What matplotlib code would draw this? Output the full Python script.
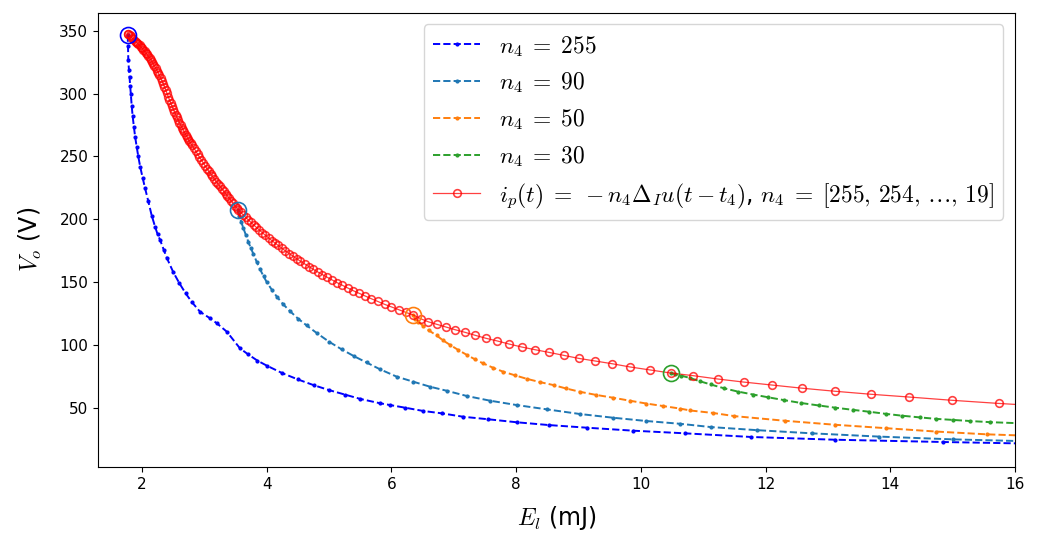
import matplotlib
matplotlib.use("Agg")
import matplotlib.pyplot as plt

plt.rcParams["mathtext.fontset"] = "cm"

# n4 = 255 (blue)
E_255 = [1.77, 1.775, 1.78, 1.79, 1.80, 1.81, 1.82, 1.835, 1.85, 1.87, 1.89,
         1.915, 1.94, 1.97, 2.01, 2.05, 2.10, 2.155, 2.21, 2.25, 2.29, 2.35,
         2.40, 2.50, 2.60, 2.70, 2.80, 2.93, 3.09, 3.20, 3.36, 3.57, 3.70,
         3.85, 4.00, 4.25, 4.50, 4.75, 5.00, 5.25, 5.50, 5.82, 5.98, 6.22,
         6.51, 6.81, 7.15, 7.55, 8.01, 8.52, 9.13, 9.88, 10.71, 11.77, 13.12,
         14.85, 16.03, 17.3]
V_255 = [347.0, 338.0, 327.0, 319.0, 313.0, 306.0, 300.0, 290.0, 282.0, 273.5,
         265.5, 257.5, 250.0, 242.0, 233.0, 224.5, 214.5, 203.0, 194.0, 188.0,
         183.5, 175.5, 169.0, 158.0, 149.0, 141.0, 134.0, 126.4, 121.2, 117.2,
         110.5, 97.3, 92.5, 87.5, 83.5, 77.5, 72.5, 68.0, 64.0, 60.5, 57.0,
         53.5, 52.1, 50.0, 47.4, 45.5, 42.8, 40.8, 38.4, 36.2, 34.1, 31.7,
         29.6, 26.7, 24.5, 22.7, 21.6, 20.9]

# n4 = 90 (steel blue)
E_90 = [3.545, 3.56, 3.59, 3.625, 3.665, 3.705, 3.745, 3.785, 3.84, 3.89,
        3.95, 4.00, 4.08, 4.16, 4.26, 4.37, 4.50, 4.64, 4.80, 5.00, 5.20,
        5.40, 5.60, 5.82, 6.085, 6.35, 6.62, 6.885, 7.21, 7.58, 8.01, 8.49,
        9.02, 9.56, 10.09, 10.63, 11.12, 11.87, 12.74, 13.82, 15.00, 16.03,
        17.2]
V_90 = [207.4, 203.0, 198.0, 193.0, 187.5, 182.0, 177.0, 172.5, 166.0, 160.5,
        154.5, 150.0, 144.0, 138.5, 132.5, 127.0, 121.0, 115.5, 109.5, 102.5,
        96.5, 91.0, 86.0, 80.5, 74.7, 70.7, 66.7, 63.5, 59.3, 55.6, 52.1,
        48.7, 45.0, 42.0, 39.4, 37.2, 34.6, 32.1, 29.6, 27.0, 24.8, 23.5,
        22.3]

# n4 = 50 (orange)
E_50 = [6.35, 6.38, 6.43, 6.51, 6.60, 6.725, 6.83, 6.94, 7.07, 7.21, 7.34,
        7.47, 7.63, 7.795, 7.98, 8.17, 8.38, 8.60, 8.80, 9.02, 9.28, 9.56,
        9.82, 10.09, 10.36, 10.63, 10.79, 11.16, 11.50, 12.31, 13.12, 13.93,
        14.74, 15.55, 16.03, 17.0]
V_50 = [123.8, 121.0, 118.5, 115.0, 111.5, 107.5, 103.5, 100.0, 96.0, 92.0,
        88.5, 85.3, 81.8, 78.6, 75.8, 73.0, 70.4, 68.0, 65.3, 62.7, 60.2,
        57.9, 55.6, 53.3, 51.3, 49.3, 47.8, 45.8, 43.3, 39.6, 36.4, 33.7,
        31.0, 28.8, 28.0, 26.5]

# n4 = 30 (green)
E_30 = [10.48, 10.55, 10.65, 10.79, 10.95, 11.12, 11.33, 11.55, 11.80, 12.04,
        12.30, 12.575, 12.85, 13.12, 13.40, 13.66, 13.93, 14.195, 14.47,
        14.74, 15.00, 15.28, 15.60, 16.03, 16.8]
V_30 = [77.6, 76.8, 75.5, 73.6, 71.0, 68.5, 65.5, 62.9, 60.5, 58.3, 56.0,
        53.7, 51.8, 50.0, 48.3, 46.8, 45.1, 43.6, 42.3, 41.1, 40.3, 39.4,
        38.5, 37.7, 36.0]

# i_p(t) step, n4 = 255 ... 19 (red)
E_step = [1.77, 1.78, 1.80, 1.82, 1.84, 1.86, 1.88, 1.90, 1.92, 1.94, 1.96,
          1.98, 2.00, 2.02, 2.04, 2.06, 2.08, 2.10, 2.12, 2.14, 2.16, 2.18,
          2.20, 2.22, 2.24, 2.26, 2.28, 2.30, 2.32, 2.34, 2.36, 2.38, 2.40,
          2.42, 2.44, 2.46, 2.48, 2.50, 2.52, 2.54, 2.56, 2.58, 2.60, 2.62,
          2.64, 2.66, 2.68, 2.70, 2.72, 2.74, 2.76, 2.78, 2.80, 2.83, 2.86,
          2.89, 2.92, 2.95, 2.98, 3.01, 3.04, 3.07, 3.10, 3.13, 3.16, 3.19,
          3.22, 3.25, 3.28, 3.31, 3.34, 3.37, 3.40, 3.43, 3.46, 3.49, 3.52,
          3.545, 3.58, 3.62, 3.66, 3.70, 3.745, 3.79, 3.83, 3.88, 3.93, 3.98,
          4.03, 4.08, 4.13, 4.18, 4.24, 4.30, 4.36, 4.42, 4.48, 4.54, 4.61,
          4.68, 4.745, 4.82, 4.89, 4.97, 5.05, 5.13, 5.21, 5.30, 5.39, 5.48,
          5.58, 5.68, 5.78, 5.89, 6.00, 6.115, 6.235, 6.35, 6.47, 6.59, 6.726,
          6.87, 7.02, 7.18, 7.345, 7.52, 7.70, 7.885, 8.09, 8.30, 8.52, 8.76,
          9.00, 9.26, 9.54, 9.83, 10.15, 10.48, 10.84, 11.24, 11.65, 12.11,
          12.59, 13.11, 13.69, 14.30, 14.99, 15.74, 16.55]
V_step = [347.5, 347.3, 346.5, 345.5, 344.4, 343.2, 342.3, 341.4, 340.5,
          339.5, 338.4, 337.3, 336.2, 335.0, 333.8, 332.6, 331.3, 330.0,
          328.6, 327.1, 325.5, 323.8, 322.1, 320.3, 318.4, 316.5, 314.5,
          312.4, 310.2, 308.0, 305.5, 302.9, 300.2, 297.5, 295.0, 292.5,
          290.1, 287.8, 285.5, 283.3, 281.1, 279.0, 277.0, 275.0, 273.0,
          271.1, 269.2, 267.4, 265.6, 263.9, 262.2, 260.6, 259.0, 256.9,
          254.4, 251.9, 249.6, 247.2, 244.9, 242.6, 240.4, 238.3, 236.2,
          234.1, 232.0, 230.0, 228.1, 226.2, 224.3, 222.4, 220.5, 218.6,
          216.8, 214.9, 212.9, 210.9, 208.9, 207.4,
          205.6, 203.6, 201.6, 199.7, 197.6, 195.5, 193.7, 191.5, 189.3,
          187.2, 185.1, 183.1, 181.2, 179.3, 177.0, 174.8, 172.7, 170.6,
          168.6, 166.6, 164.4, 162.2, 160.2, 158.0, 156.0, 153.8, 151.6,
          149.5, 147.5, 145.3, 143.1, 141.1, 138.8, 136.7, 134.6, 132.3,
          130.2, 128.0, 125.8, 123.8, 120.8, 118.4, 116.4, 114.2, 112.1,
          110.0, 107.6, 105.2, 103.1, 100.7, 98.3, 96.2, 94.1, 91.7, 89.3,
          87.2, 85.0, 82.4, 80.0, 77.6, 75.5, 72.8, 70.4, 68.0, 65.5, 63.1,
          60.7, 58.5, 55.9, 53.4, 51.0]

fig = plt.figure(figsize=(10.37, 5.45), dpi=100)
ax = fig.add_axes([98 / 1037, 1 - 467 / 545, 917 / 1037, 454.5 / 545])

dashed = [(E_255, V_255, "blue", r"$n_4\;=\;255$"),
          (E_90, V_90, "tab:blue", r"$n_4\;=\;90$"),
          (E_50, V_50, "tab:orange", r"$n_4\;=\;50$"),
          (E_30, V_30, "tab:green", r"$n_4\;=\;30$")]
for e, v, c, lab in dashed:
    ax.plot(e, v, "--", marker=".", ms=4, lw=1.4, c=c, label=lab)

ax.plot(E_step, V_step, "-o", c="red", lw=0.9, ms=5.5, mfc="none", mew=1.2,
        alpha=0.75,
        label=r"$i_p(t)\;=\;-n_4\Delta_I u(t-t_4)$, "
              r"$n_4\;=\;[255,\,254,\,\ldots,\,19]$")

# start point of every n4 curve
for e, v, c, lab in dashed:
    ax.plot(e[0], v[0], "o", ms=11.5, mfc="none", mew=1.2, c=c)

ax.set_xlim(1.294, 16)
ax.set_ylim(2.8, 364.6)
ax.set_xlabel(r"$E_l$ (mJ)", fontsize=17, labelpad=9)
ax.set_ylabel(r"$V_o$ (V)", fontsize=17, labelpad=11)
ax.tick_params(labelsize=11)
ax.legend(loc="upper right", fontsize=16.9)

fig.savefig("out.png", dpi=100)
